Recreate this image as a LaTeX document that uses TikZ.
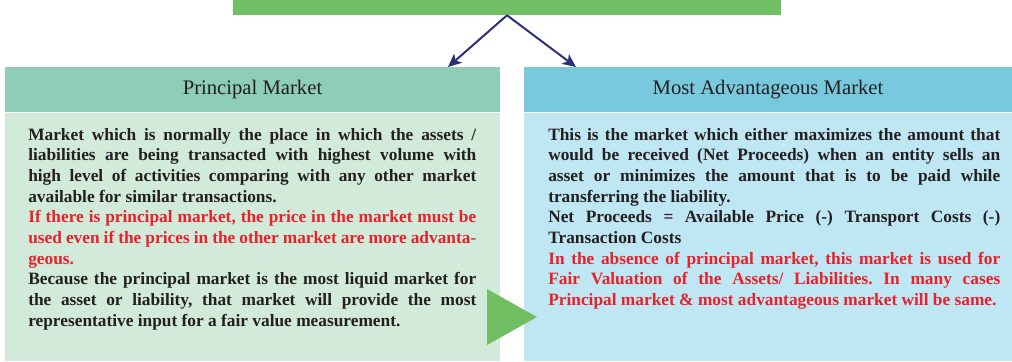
\documentclass[tikz,border=0pt]{standalone}
\usepackage{fontspec}
\setmainfont{Liberation Serif}
\usetikzlibrary{arrows.meta,positioning,calc}

\definecolor{topgreen}{HTML}{70BF63}
\definecolor{pmhead}{HTML}{8ECDB6}
\definecolor{pmbody}{HTML}{D2EADA}
\definecolor{mamhead}{HTML}{79C9DE}
\definecolor{mambody}{HTML}{BFE6F3}
\definecolor{arrownavy}{HTML}{2B2F7A}
\definecolor{textred}{HTML}{E8212B}
\definecolor{textdark}{HTML}{231F20}
\frenchspacing

\begin{document}
\begin{tikzpicture}[x=0.75pt,y=0.75pt,
        topbar/.style={fill=topgreen, minimum width=411pt, minimum height=11.25pt, inner sep=0pt},
        header/.style={minimum height=33.75pt, inner sep=0pt, text=textdark, font=\fontsize{15.5}{18}\selectfont},
        bodybox/.style={minimum height=186pt, inner sep=0pt},
        bodytext/.style={anchor=north west, inner sep=0pt, align=justify, text=textdark,
            font=\bfseries\fontsize{13}{15.5}\selectfont},
        arrow/.style={-{Stealth[length=10pt, width=9pt, inset=2.5pt]}, line width=1.5pt, draw=arrownavy}
    ]
        \useasboundingbox (0,0) rectangle (1012,-361);

        \node[topbar] (fvm) at (507,-7.5) {};

        \node[header, fill=pmhead, minimum width=371.25pt] (pmHead) at (252.5,-89.5) {Principal Market};
        \node[bodybox, fill=pmbody, minimum width=371.25pt, below=0pt of pmHead] (pmBody) {};
        \node[header, fill=mamhead, minimum width=366pt] (mamHead) at (768,-89.5) {Most Advantageous Market};
        \node[bodybox, fill=mambody, minimum width=366pt, below=0pt of mamHead] (mamBody) {};

        % green pointer between the two boxes
        \fill[topgreen] (487,-289) -- (537,-317) -- (487,-345) -- cycle;

        \node[bodytext, text width=336pt] (pmText) at (28,-128) {%
            Market which is normally the place in which the assets /\linebreak
            liabilities are being transacted with highest volume with\linebreak
            high level of activities comparing with any other market\linebreak
            available for similar transactions.\par
            {\color{textred}If there is principal market, the price in the market must be\linebreak
            used even if the prices in the other market are more advanta-\linebreak
            geous.\par}
            Because the principal market is the most liquid market for\linebreak
            the asset or liability, that market will provide the most\linebreak
            representative input for a fair value measurement.};

        \node[bodytext, text width=339pt] (mamText) at (548,-128) {%
            This is the market which either maximizes the amount that\linebreak
            would be received (Net Proceeds) when an entity sells an\linebreak
            asset or minimizes the amount that is to be paid while\linebreak
            transferring the liability.\par
            Net Proceeds = Available Price (-) Transport Costs (-)\linebreak
            Transaction Costs\par
            {\color{textred}In the absence of principal market, this market is used for\linebreak
            Fair Valuation of the Assets/ Liabilities. In many cases\linebreak
            Principal market \& most advantageous market will be same.\par}};

        \coordinate (pmIn) at (448,-67);
        \coordinate (mamIn) at (576,-67);
        \draw[arrow] (fvm.south) -- (pmIn);
        \draw[arrow] (fvm.south) -- (mamIn);
    \end{tikzpicture}
\end{document}
